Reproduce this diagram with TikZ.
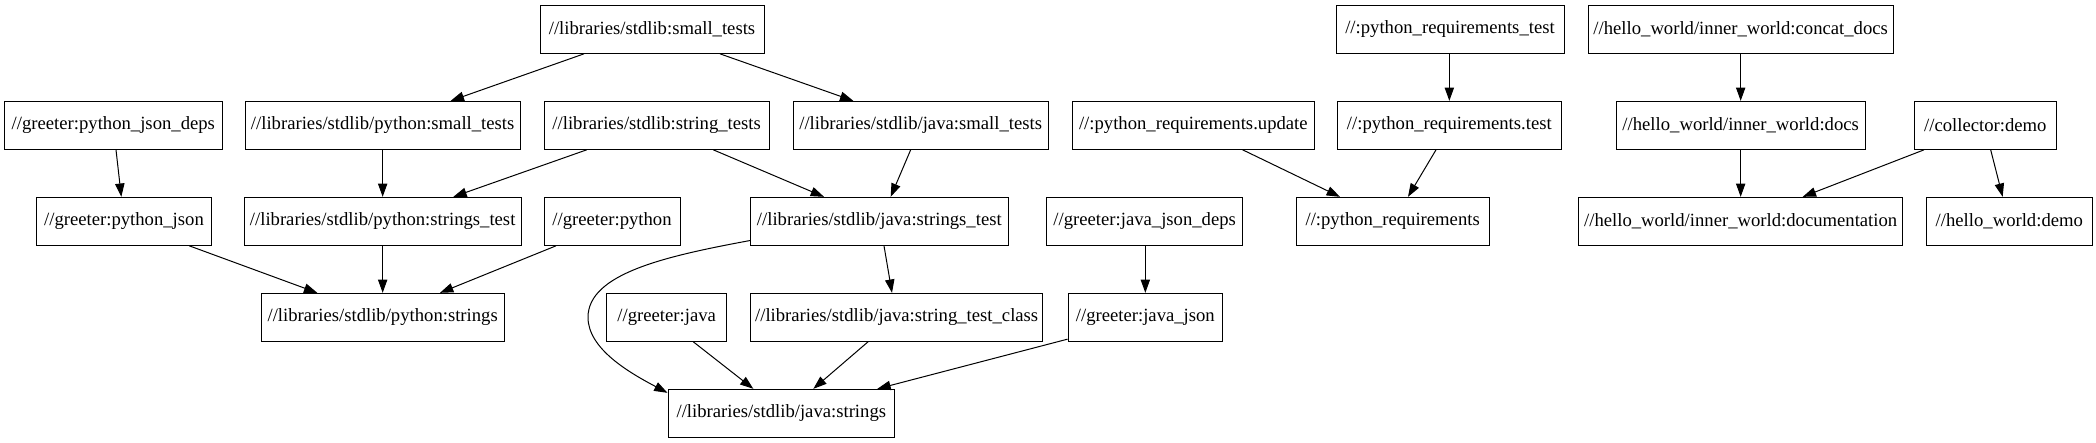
\documentclass[tikz,border=0pt]{standalone}
\usepackage{fontspec}
\setmainfont{Liberation Serif}
\usetikzlibrary{arrows.meta}
\begin{document}
\begin{tikzpicture}[x=1pt,y=1pt,
  box/.style={draw, line width=0.75pt, minimum height=36pt, inner xsep=2pt, inner ysep=0pt,
    font=\fontsize{14}{16.8}\selectfont, anchor=center},
  edge/.style={draw, line width=0.75pt, -{Triangle[length=10pt,width=7pt]}}]
\useasboundingbox (0,0) rectangle (1572,-332);
% row 1
\node[box, minimum width=168pt] (sst) at (489,-22) {//libraries/stdlib:small\_tests};
\node[box, minimum width=171pt] (prtest) at (1087.5,-22) {//:python\_requirements\_test};
\node[box, minimum width=229pt] (cdocs) at (1305.5,-22) {//hello\_world/inner\_world:concat\_docs};
% row 2
\node[box, minimum width=163pt] (pjd) at (85,-94) {//greeter:python\_json\_deps};
\node[box, minimum width=206pt] (pst) at (287,-94) {//libraries/stdlib/python:small\_tests};
\node[box, minimum width=169pt] (strt) at (492.5,-94) {//libraries/stdlib:string\_tests};
\node[box, minimum width=191pt] (jst) at (690.5,-94) {//libraries/stdlib/java:small\_tests};
\node[box, minimum width=182pt] (pru) at (895,-94) {//:python\_requirements.update};
\node[box, minimum width=168pt] (prt) at (1087,-94) {//:python\_requirements.test};
\node[box, minimum width=187pt] (docs) at (1305.5,-94) {//hello\_world/inner\_world:docs};
\node[box, minimum width=106pt] (coll) at (1489,-94) {//collector:demo};
% row 3
\node[box, minimum width=131pt] (pj) at (93,-166) {//greeter:python\_json};
\node[box, minimum width=208pt] (pstrt) at (287,-166) {//libraries/stdlib/python:strings\_test};
\node[box, minimum width=102pt] (gp) at (459,-166) {//greeter:python};
\node[box, minimum width=193pt] (jstrt) at (659.5,-166) {//libraries/stdlib/java:strings\_test};
\node[box, minimum width=147pt] (jjd) at (858.5,-166) {//greeter:java\_json\_deps};
\node[box, minimum width=145pt] (pr) at (1044.5,-166) {//:python\_requirements};
\node[box, minimum width=243pt] (doc) at (1305.5,-166) {//hello\_world/inner\_world:documentation};
\node[box, minimum width=124pt] (hwd) at (1507,-166) {//hello\_world:demo};
% row 4
\node[box, minimum width=182pt] (pstr) at (287,-238) {//libraries/stdlib/python:strings};
\node[box, minimum width=90pt] (gj) at (500,-238) {//greeter:java};
\node[box, minimum width=219pt] (jstc) at (672.5,-238) {//libraries/stdlib/java:string\_test\_class};
\node[box, minimum width=116pt] (jj) at (859,-238) {//greeter:java\_json};
% row 5
\node[box, minimum width=170pt] (jstr) at (586,-310) {//libraries/stdlib/java:strings};
% edges
\path[edge] ([xshift=-51pt]sst.south) -- ([xshift=51pt]pst.north);
\path[edge] ([xshift=51pt]sst.south) -- ([xshift=-50.5pt]jst.north);
\path[edge] ([xshift=2pt]pjd.south) -- ([xshift=-2pt]pj.north);
\path[edge] (pst.south) -- (pstrt.north);
\path[edge] ([xshift=-52.5pt]strt.south) -- ([xshift=53pt]pstrt.north);
\path[edge] ([xshift=42.5pt]strt.south) -- ([xshift=-41.5pt]jstrt.north);
\path[edge] ([xshift=-7.5pt]jst.south) -- ([xshift=8.5pt]jstrt.north);
\path[edge] ([xshift=37pt]pru.south) -- ([xshift=-39.5pt]pr.north);
\path[edge] ([xshift=-0.5pt]prtest.south) -- (prt.north);
\path[edge] ([xshift=-10pt]prt.south) -- ([xshift=11.5pt]pr.north);
\path[edge] (cdocs.south) -- (docs.north);
\path[edge] (docs.south) -- (doc.north);
\path[edge] ([xshift=-46pt]coll.south) -- ([xshift=46.5pt]doc.north);
\path[edge] ([xshift=4pt]coll.south) -- ([xshift=-5pt]hwd.north);
\path[edge] ([xshift=49pt]pj.south) -- ([xshift=-49pt]pstr.north);
\path[edge] (pstrt.south) -- (pstr.north);
\path[edge] ([xshift=-42pt]gp.south) -- ([xshift=43pt]pstr.north);
\path[edge] ([xshift=3.5pt]jstrt.south) -- ([xshift=-3.5pt]jstc.north);
\path[edge] ([xshift=0.5pt]jjd.south) -- (jj.north);
\path[edge] ([xshift=20pt]gj.south) -- ([xshift=-21pt]jstr.north);
\path[edge] ([xshift=-21.5pt]jstc.south) -- ([xshift=24pt]jstr.north);
\path[edge] ([yshift=2pt]jj.south west) -- ([xshift=72pt]jstr.north);
\path[edge] ([yshift=4pt]jstrt.south west) .. controls (500,-192) and (441,-205) .. (441,-238)
  .. controls (441,-262) and (473,-280) .. ([yshift=-3pt]jstr.north west);
\end{tikzpicture}
\end{document}
